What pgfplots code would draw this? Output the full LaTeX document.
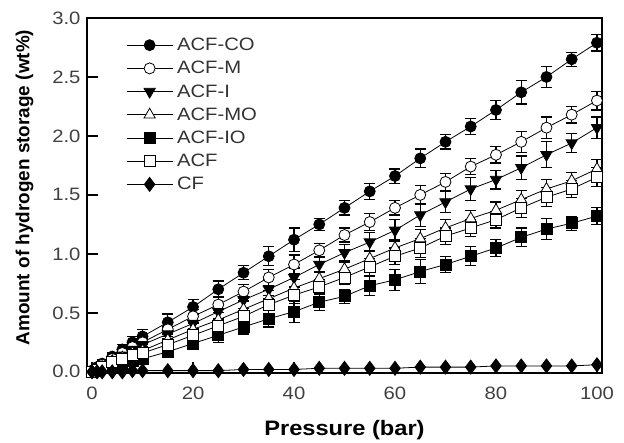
\documentclass[border=0pt]{standalone}
\usepackage{pgfplots}
\pgfplotsset{compat=1.18}
\usepackage{pgfplotstable}
\usepackage{fontspec}
\setmainfont{Liberation Sans}
\newfontfamily\hfont{Liberation Sans}[FakeStretch=1.13]
\pgfplotstableread{
x y e
0 0.01 0.02
1 0.04 0.02
2 0.07 0.03
4 0.13 0.03
6 0.19 0.04
8 0.25 0.05
10 0.30 0.06
15 0.42 0.07
20 0.55 0.06
25 0.70 0.07
30 0.84 0.06
35 0.98 0.08
40 1.12 0.10
45 1.25 0.05
50 1.39 0.06
55 1.53 0.07
60 1.66 0.06
65 1.81 0.08
70 1.95 0.06
75 2.08 0.07
80 2.22 0.08
85 2.37 0.10
90 2.50 0.09
95 2.65 0.06
100 2.79 0.07
}\tabCO
\pgfplotstableread{
x y e
0 0.01 0.02
1 0.03 0.02
2 0.06 0.03
4 0.11 0.03
6 0.16 0.04
8 0.21 0.05
10 0.25 0.05
15 0.36 0.06
20 0.47 0.06
25 0.57 0.07
30 0.68 0.06
35 0.80 0.07
40 0.91 0.08
45 1.03 0.06
50 1.16 0.06
55 1.27 0.07
60 1.39 0.06
65 1.50 0.08
70 1.61 0.07
75 1.74 0.07
80 1.84 0.07
85 1.95 0.09
90 2.07 0.09
95 2.18 0.07
100 2.30 0.08
}\tabM
\pgfplotstableread{
x y e
0 0.01 0.02
1 0.03 0.02
2 0.05 0.03
4 0.10 0.03
6 0.14 0.04
8 0.19 0.05
10 0.23 0.05
15 0.32 0.06
20 0.41 0.06
25 0.51 0.07
30 0.61 0.07
35 0.70 0.08
40 0.80 0.08
45 0.91 0.07
50 1.01 0.07
55 1.10 0.08
60 1.20 0.09
65 1.33 0.10
70 1.44 0.09
75 1.55 0.10
80 1.63 0.08
85 1.73 0.10
90 1.84 0.11
95 1.94 0.08
100 2.07 0.09
}\tabI
\pgfplotstableread{
x y e
0 0.01 0.02
1 0.02 0.02
2 0.04 0.03
4 0.09 0.03
6 0.12 0.04
8 0.16 0.04
10 0.18 0.05
15 0.27 0.05
20 0.36 0.06
25 0.44 0.06
30 0.53 0.07
35 0.62 0.07
40 0.71 0.07
45 0.79 0.06
50 0.87 0.06
55 0.96 0.07
60 1.05 0.07
65 1.13 0.08
70 1.22 0.07
75 1.30 0.07
80 1.37 0.07
85 1.46 0.08
90 1.55 0.08
95 1.62 0.07
100 1.72 0.08
}\tabMO
\pgfplotstableread{
x y e
0 0.00 0.02
1 0.02 0.02
2 0.04 0.03
4 0.08 0.03
6 0.11 0.04
8 0.14 0.04
10 0.16 0.05
15 0.23 0.05
20 0.31 0.06
25 0.39 0.06
30 0.47 0.07
35 0.57 0.08
40 0.65 0.07
45 0.72 0.06
50 0.80 0.06
55 0.89 0.07
60 0.98 0.07
65 1.05 0.08
70 1.15 0.07
75 1.22 0.07
80 1.29 0.07
85 1.39 0.08
90 1.48 0.08
95 1.55 0.07
100 1.65 0.08
}\tabACF
\pgfplotstableread{
x y e
0 0.00 0.02
1 0.01 0.02
2 0.03 0.02
4 0.05 0.03
6 0.07 0.03
8 0.09 0.04
10 0.11 0.04
15 0.17 0.05
20 0.24 0.05
25 0.31 0.06
30 0.38 0.06
35 0.45 0.07
40 0.51 0.09
45 0.59 0.07
50 0.64 0.06
55 0.73 0.08
60 0.78 0.09
65 0.85 0.10
70 0.91 0.07
75 0.98 0.08
80 1.05 0.07
85 1.14 0.08
90 1.21 0.09
95 1.26 0.06
100 1.32 0.07
}\tabIO
\pgfplotstableread{
x y
0 0.00
1 0.00
2 0.00
4 0.00
6 0.00
8 0.01
10 0.01
15 0.01
20 0.01
25 0.01
30 0.02
35 0.02
40 0.02
45 0.03
50 0.03
55 0.03
60 0.03
65 0.04
70 0.04
75 0.04
80 0.05
85 0.05
90 0.05
95 0.05
100 0.06
}\tabCF
\begin{document}
\begin{tikzpicture}[x=1bp,y=1bp]
\useasboundingbox (0,0) rectangle (624bp,443bp);
\begin{axis}[
  at={(87bp,70bp)}, anchor=south west,
  width=515bp, height=355bp, scale only axis,
  xmin=-1, xmax=101, ymin=-0.01, ymax=3.0,
  xtick={0,20,...,100}, ytick={0,0.5,...,3.0},
  tick pos=left,
  tick align=inside, major tick length=11bp,
  axis line style={line width=1.5pt},
  tick style={line width=1.5pt, black},
  /pgf/number format/assume math mode=true,
  ticklabel style={font=\hfont\fontsize{18}{20}\selectfont, text=black!75},
  yticklabel style={xshift=-3bp, /pgf/number format/.cd, fixed, fixed zerofill, precision=1},
  xticklabel style={yshift=-10bp},
  xlabel={Pressure (bar)},
  ylabel={Amount of hydrogen storage (wt\%)},
  xlabel style={font=\hfont\fontsize{21}{24}\selectfont\bfseries, yshift=-14bp},
  ylabel style={font=\fontsize{19}{22}\selectfont\bfseries, yshift=12bp, xshift=8bp},
  legend style={at={(0.07,0.955)}, anchor=north west, draw=none, fill=none,
    font=\hfont\fontsize{18}{21}\selectfont, row sep=5.2bp, text=black!80,
    nodes={inner xsep=4bp}},
  legend cell align=left,
  legend image code/.code={\draw[#1, mark repeat=2, mark phase=2] plot coordinates {(0bp,0bp) (23bp,0bp) (46bp,0bp)};},
  every axis plot/.append style={black, line width=0.8pt,
    error bars/y dir=both, error bars/y explicit,
    error bars/error bar style={line width=1.2pt, black},
    error bars/error mark options={rotate=90, mark size=5.5bp, line width=1.2pt, black}},
  clip=false,
]
\addplot[mark=*, mark size=5.5bp, mark options={fill=black, solid}] table[x=x, y=y, y error=e] {\tabCO};
\addlegendentry{ACF-CO}
\addplot[mark=*, mark size=5.5bp, mark options={fill=white, solid}] table[x=x, y=y, y error=e] {\tabM};
\addlegendentry{ACF-M}
\addplot[mark=triangle*, mark size=6.5bp, mark options={fill=black, rotate=180, solid}] table[x=x, y=y, y error=e] {\tabI};
\addlegendentry{ACF-I}
\addplot[mark=triangle*, mark size=6.5bp, mark options={fill=white, solid}] table[x=x, y=y, y error=e] {\tabMO};
\addlegendentry{ACF-MO}
\addplot[mark=square*, mark size=5.5bp, mark options={fill=black, solid}] table[x=x, y=y, y error=e] {\tabIO};
\addlegendentry{ACF-IO}
\addplot[mark=square*, mark size=5.5bp, mark options={fill=white, solid}] table[x=x, y=y, y error=e] {\tabACF};
\addlegendentry{ACF}
\addplot[mark=diamond*, mark size=7bp, mark options={fill=black, solid}, error bars/y dir=none] table[x=x, y=y] {\tabCF};
\addlegendentry{CF}
\end{axis}
\end{tikzpicture}
\end{document}
